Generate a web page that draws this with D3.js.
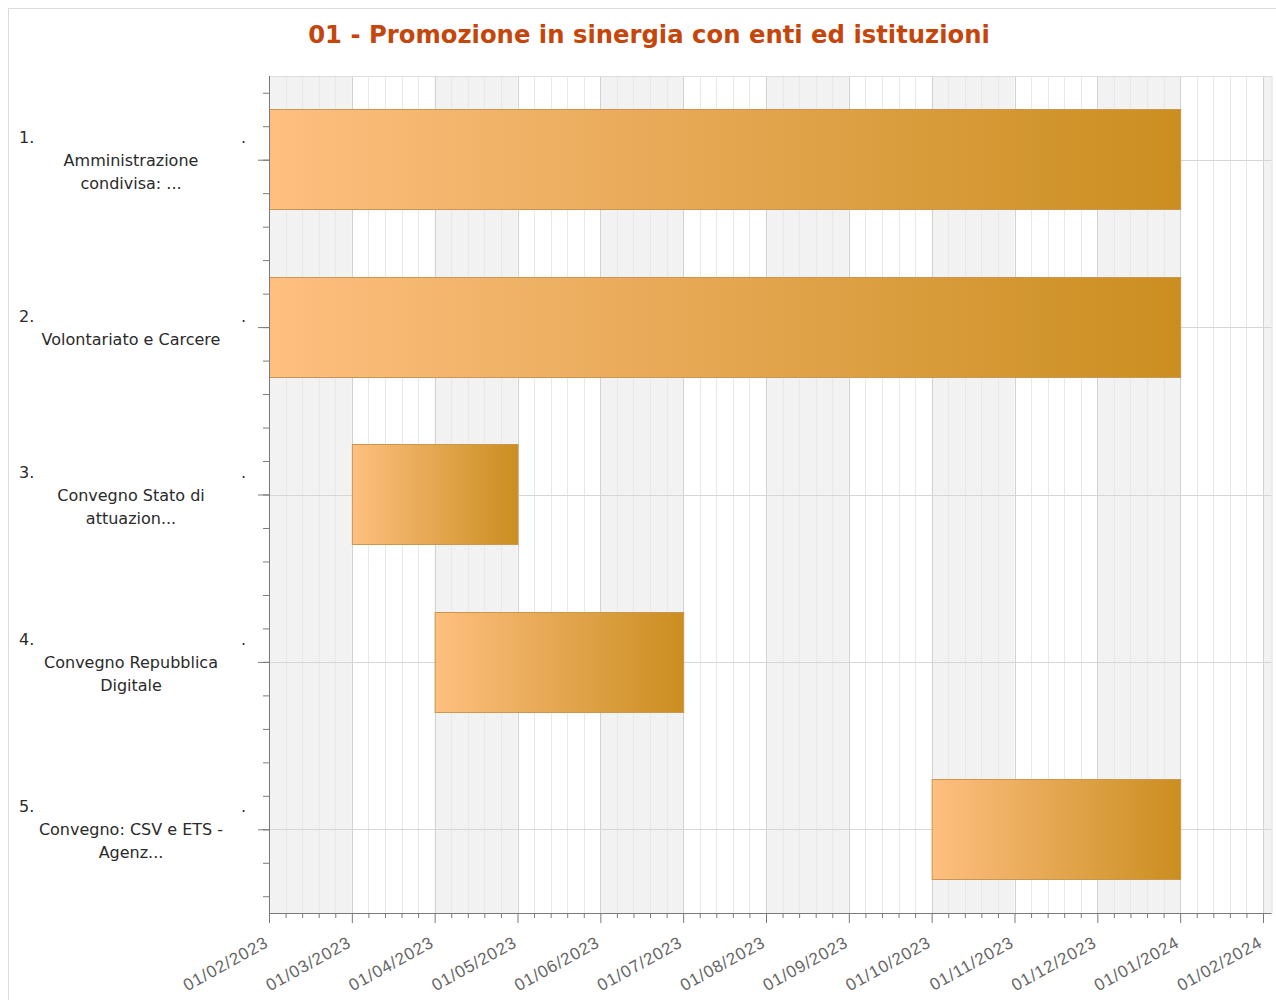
<!DOCTYPE html>
<html><head><meta charset="utf-8">
<script src="https://cdn.jsdelivr.net/npm/d3@7"></script>
<style>body{margin:0;background:#fff}svg{display:block}</style>
</head><body>
<svg id="c" width="1276" height="1000"></svg>
<script>
const title = "01 - Promozione in sinergia con enti ed istituzioni";
const taskNumbers = ["1.", "2.", "3.", "4.", "5."];
const taskLabels = [
  ["Amministrazione", "condivisa: ..."],
  ["Volontariato e Carcere"],
  ["Convegno Stato di", "attuazion..."],
  ["Convegno Repubblica", "Digitale"],
  ["Convegno: CSV e ETS -", "Agenz..."]
];
const taskStart = ["2023-02-01", "2023-02-01", "2023-03-01", "2023-04-01", "2023-10-01"];
const taskEnd   = ["2024-01-01", "2024-01-01", "2023-05-01", "2023-07-01", "2024-01-01"];
const monthTicks = ["2023-02-01","2023-03-01","2023-04-01","2023-05-01","2023-06-01","2023-07-01",
  "2023-08-01","2023-09-01","2023-10-01","2023-11-01","2023-12-01","2024-01-01","2024-02-01"];
const minorFractions = [0.2, 0.4, 0.6, 0.8];
const axisStart = "2023-02-01", axisEnd = "2024-02-04";

const parse = d3.utcParse("%Y-%m-%d");
const fmt = d3.utcFormat("%d/%m/%Y");
const origin = parse(axisStart);
// calendar axis: each month gets equal width
function units(s) {
  const d = typeof s === "string" ? parse(s) : s;
  const m = (d.getUTCFullYear() - origin.getUTCFullYear()) * 12 + d.getUTCMonth() - origin.getUTCMonth();
  const dim = new Date(Date.UTC(d.getUTCFullYear(), d.getUTCMonth() + 1, 0)).getUTCDate();
  return m + (d.getUTCDate() - 1) / dim;
}
const svg = d3.select("#c");
const L = 269, T = 76, B = 913;
const x = d3.scaleLinear().domain([units(axisStart), units(monthTicks[monthTicks.length - 1])]).range([L, 1263]);
const R = x(units(axisEnd));
const y = d3.scaleLinear().domain([-0.5, taskNumbers.length - 0.5]).range([T, B]);

// outer frame
svg.append("rect").attr("x", 8.5).attr("y", 8.5).attr("width", 1280).attr("height", 1000)
  .attr("fill", "none").attr("stroke", "#dcdcdc");

// title
const tt = svg.append("text").attr("x", 649).attr("y", 43).attr("text-anchor", "middle")
  .attr("font-family", "DejaVu Sans, Verdana, sans-serif").attr("font-weight", "bold")
  .attr("font-size", 26).attr("fill", "#C5460B").text(title);
const tw = tt.node().getComputedTextLength();
tt.attr("font-size", 26 * 682 / tw);

const monthU = monthTicks.map(units);
const plot = svg.append("g");
const bandEdges = monthU.concat([units(axisEnd)]);
for (let i = 0; i < bandEdges.length - 1; i++) {
  if (i % 2 === 0) {
    plot.append("rect").attr("x", x(bandEdges[i])).attr("y", T)
      .attr("width", x(bandEdges[i + 1]) - x(bandEdges[i])).attr("height", B - T)
      .attr("fill", "#f2f2f2");
  }
}
const minorU = [];
monthU.forEach(m => minorFractions.forEach(f => { if (m + f <= units(axisEnd)) minorU.push(m + f); }));
plot.selectAll(".vminor").data(minorU).join("line")
  .attr("x1", d => Math.round(x(d)) + 0.5).attr("x2", d => Math.round(x(d)) + 0.5)
  .attr("y1", T).attr("y2", B).attr("stroke", "#e8e8e8");
plot.selectAll(".vmajor").data(monthU).join("line")
  .attr("x1", d => Math.round(x(d)) + 0.5).attr("x2", d => Math.round(x(d)) + 0.5)
  .attr("y1", T).attr("y2", B).attr("stroke", "#d2d2d2");
plot.selectAll(".hgrid").data(taskNumbers).join("line")
  .attr("x1", L).attr("x2", R)
  .attr("y1", (d, i) => Math.round(y(i)) + 0.5).attr("y2", (d, i) => Math.round(y(i)) + 0.5)
  .attr("stroke", "#d6d6d6");
svg.append("line").attr("x1", L).attr("x2", R).attr("y1", T + 0.5).attr("y2", T + 0.5).attr("stroke", "#dddddd");
svg.append("line").attr("x1", R + 0.5).attr("x2", R + 0.5).attr("y1", T).attr("y2", B).attr("stroke", "#dddddd");

// bars
const defs = svg.append("defs");
const gr = defs.append("linearGradient").attr("id", "barGrad").attr("x1", "0%").attr("x2", "100%").attr("y1", "0%").attr("y2", "0%");
gr.append("stop").attr("offset", "0%").attr("stop-color", "#FEBF80");
gr.append("stop").attr("offset", "100%").attr("stop-color", "#CA8E20");
const bh = (y(1) - y(0)) * 0.6;
svg.selectAll(".bar").data(taskNumbers).join("rect")
  .attr("x", (d, i) => x(units(taskStart[i])) + 0.5)
  .attr("y", (d, i) => Math.round(y(i) - bh / 2) + 0.5)
  .attr("width", (d, i) => x(units(taskEnd[i])) - x(units(taskStart[i])))
  .attr("height", Math.round(bh))
  .attr("fill", "url(#barGrad)").attr("stroke", "#CC9650").attr("stroke-width", 1);

// axes
const axisCol = "#7a7a7a";
const xMajor = svg.append("g").attr("transform", `translate(0,${B})`)
  .call(d3.axisBottom(x).tickValues(monthU).tickFormat((d, i) => fmt(parse(monthTicks[i]))).tickSize(10));
xMajor.select(".domain").attr("stroke", axisCol).attr("d", `M${L},0.5H${R}`);
xMajor.selectAll(".tick line").attr("stroke", axisCol);
xMajor.selectAll(".tick text")
  .attr("font-family", "Liberation Sans, Arial, sans-serif").attr("font-size", 17).attr("fill", "#666")
  .attr("letter-spacing", 0.9)
  .attr("text-anchor", "end").attr("dy", 0).attr("y", 0).attr("x", 0)
  .attr("transform", "translate(0,33) rotate(-29)");
const xMinor = svg.append("g").attr("transform", `translate(0,${B})`)
  .call(d3.axisBottom(x).tickValues(minorU).tickFormat("").tickSize(5));
xMinor.select(".domain").remove();
xMinor.selectAll(".tick line").attr("stroke", axisCol);

const yMinorVals = d3.range(-2, taskNumbers.length * 5 - 2).map(k => k * 0.2);
const yMinor = svg.append("g").attr("transform", `translate(${L},0)`)
  .call(d3.axisLeft(y).tickValues(yMinorVals).tickFormat("").tickSize(6));
yMinor.select(".domain").remove();
yMinor.selectAll(".tick line").attr("stroke", axisCol);
const yMajor = svg.append("g").attr("transform", `translate(${L},0)`)
  .call(d3.axisLeft(y).tickValues(d3.range(taskNumbers.length)).tickFormat("").tickSize(11));
yMajor.select(".domain").attr("stroke", axisCol).attr("d", `M0.5,${T}V${B + 10}`);
yMajor.selectAll(".tick line").attr("stroke", axisCol);

// y labels
const lh = 23;
const lf = "DejaVu Sans, Verdana, sans-serif";
taskNumbers.forEach((n, i) => {
  const lines = taskLabels[i];
  const nLines = lines.length + 1;
  const top = y(i) - (nLines - 1) * lh / 2;
  const g = svg.append("g").attr("font-family", lf).attr("font-size", 16).attr("fill", "#2a2a2a");
  g.append("text").attr("x", 19).attr("y", top + 6).text(n);
  g.append("text").attr("x", 241).attr("y", top + 6).text(".");
  lines.forEach((ln, j) => {
    g.append("text").attr("x", 131).attr("y", top + (j + 1) * lh + 6)
      .attr("text-anchor", "middle").text(ln);
  });
});
</script>
</body></html>
